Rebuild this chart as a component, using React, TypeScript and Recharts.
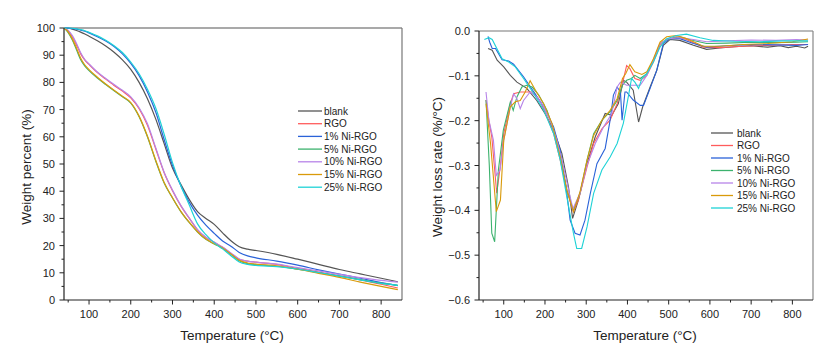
import React from 'react';
import { LineChart, Line, XAxis, YAxis, ReferenceLine } from 'recharts';

// TGA (left) temperature grid
const tgaTemps = [40, 50, 60, 70, 80, 90, 100, 120, 140, 160, 180, 200, 220, 240, 260, 280, 300, 320, 340, 360, 380, 400, 420, 440, 460, 480, 500, 550, 600, 650, 700, 750, 800, 840];

const tgaBlank = [100, 99.9, 99.6, 99.1, 98.5, 97.8, 97, 95.3, 93.4, 91.1, 88.3, 84.8, 80, 74, 66.5, 57.5, 48.5, 42.5, 37, 32.5, 30, 27.8, 24.7, 21.8, 19.6, 18.7, 18.2, 16.8, 15, 13.1, 11.2, 9.6, 8, 6.7];
const tgaRGO = [100, 98.9, 96.8, 93.8, 90.5, 88.2, 86.6, 83.6, 81.2, 78.9, 76.8, 74.3, 70.3, 64.2, 55.5, 46.8, 40.2, 34.6, 30.1, 25.8, 23, 21.2, 19.4, 17.1, 15, 14.3, 13.9, 13.1, 11.6, 10.3, 8.9, 7.4, 5.8, 4.4];
const tga1 = [100, 99.95, 99.8, 99.6, 99.2, 98.8, 98.2, 96.8, 95.2, 93.2, 90.5, 87, 82.5, 76.5, 69, 59, 49.5, 42, 36, 31.2, 27.5, 24.5, 21.7, 19.8, 17.5, 16.2, 15.5, 14.3, 12.8, 11.1, 9.5, 8, 6.4, 5.3];
const tga5 = [100, 98.3, 95.6, 92, 88.3, 86, 84.3, 81.6, 79.2, 76.9, 74.7, 72.4, 67.4, 60, 51, 43, 37.5, 32.5, 28.5, 25, 22.3, 20.6, 19, 16.8, 14.4, 13.4, 13, 12.4, 11.3, 10.1, 8.8, 7.5, 6.2, 5.4];
const tga10 = [100, 99.1, 97.2, 94.3, 90.9, 88.4, 86.8, 83.8, 81.4, 79.2, 77.1, 74.7, 70.7, 64.8, 55.9, 47, 40.4, 34.8, 30.2, 25.9, 23.1, 21.3, 19.5, 17.3, 15.1, 14.3, 13.9, 13.2, 11.9, 10.7, 9.4, 8.2, 7.2, 6.6];
const tga15 = [100, 98.6, 96, 92.6, 88.9, 86.4, 84.7, 81.9, 79.4, 77.1, 74.9, 72.6, 67.6, 60.2, 51.3, 43.2, 37.6, 32.6, 28.6, 25.1, 22.4, 20.7, 19.1, 16.9, 14.6, 13.6, 13.2, 12.6, 11.3, 9.8, 8.3, 6.6, 5, 3.8];
const tga25 = [100, 100, 99.9, 99.7, 99.4, 99, 98.4, 97.1, 95.5, 93.5, 91, 87.5, 83.2, 77.5, 70.5, 61, 50.5, 42, 35, 28, 24, 21, 18.8, 16.3, 14, 13.1, 12.7, 12.3, 11.4, 10.1, 8.8, 7.4, 6.1, 5.4];

// DTG (right) per-series temperatures and rates
const dtgBlankT = [62, 72, 84, 100, 116, 132, 156, 180, 200, 221, 241, 257, 267, 281, 302, 322, 346, 362, 378, 390, 398, 414, 427, 437, 455, 471, 487, 503, 527, 560, 592, 624, 660, 700, 740, 770, 790, 810, 830, 838];
const dtgBlankV = [-0.039, -0.043, -0.065, -0.08, -0.099, -0.114, -0.128, -0.155, -0.184, -0.221, -0.273, -0.348, -0.418, -0.377, -0.296, -0.236, -0.184, -0.188, -0.162, -0.11, -0.114, -0.132, -0.203, -0.169, -0.125, -0.088, -0.032, -0.019, -0.021, -0.032, -0.041, -0.038, -0.035, -0.033, -0.036, -0.033, -0.037, -0.034, -0.038, -0.034];
const dtgRGOT = [57, 64, 71, 83, 92, 100, 116, 124, 140, 156, 173, 189, 205, 221, 237, 253, 269, 281, 302, 318, 338, 358, 375, 388, 398, 406, 418, 431, 447, 463, 479, 495, 519, 543, 584, 624, 680, 740, 800, 838];
const dtgRGOV = [-0.154, -0.2, -0.236, -0.362, -0.3, -0.229, -0.162, -0.14, -0.136, -0.136, -0.136, -0.158, -0.192, -0.229, -0.288, -0.355, -0.403, -0.377, -0.303, -0.251, -0.218, -0.199, -0.162, -0.117, -0.077, -0.084, -0.106, -0.11, -0.099, -0.069, -0.032, -0.019, -0.013, -0.019, -0.036, -0.037, -0.034, -0.032, -0.03, -0.03];
const dtg1T = [62, 66, 72, 80, 96, 112, 124, 148, 173, 197, 221, 237, 253, 261, 273, 285, 297, 310, 326, 346, 358, 366, 375, 383, 387, 394, 398, 414, 431, 439, 455, 471, 487, 503, 527, 560, 592, 640, 700, 760, 810, 838];
const dtg1V = [-0.012, -0.025, -0.039, -0.039, -0.064, -0.067, -0.074, -0.102, -0.136, -0.169, -0.214, -0.266, -0.362, -0.422, -0.451, -0.455, -0.422, -0.362, -0.296, -0.262, -0.199, -0.143, -0.125, -0.136, -0.199, -0.136, -0.136, -0.154, -0.166, -0.166, -0.128, -0.088, -0.028, -0.017, -0.017, -0.028, -0.036, -0.033, -0.03, -0.031, -0.032, -0.03];
const dtg5T = [57, 65, 71, 78, 87, 99, 116, 123, 132, 144, 156, 169, 185, 205, 221, 237, 253, 269, 285, 302, 318, 338, 358, 375, 388, 398, 410, 418, 431, 447, 463, 479, 495, 527, 560, 592, 640, 700, 760, 810, 838];
const dtg5V = [-0.154, -0.3, -0.451, -0.47, -0.31, -0.221, -0.158, -0.177, -0.147, -0.125, -0.121, -0.125, -0.143, -0.177, -0.221, -0.281, -0.355, -0.4, -0.362, -0.288, -0.229, -0.199, -0.18, -0.155, -0.121, -0.11, -0.106, -0.099, -0.106, -0.095, -0.065, -0.028, -0.019, -0.013, -0.021, -0.028, -0.027, -0.025, -0.026, -0.025, -0.024];
const dtg10T = [57, 64, 75, 82, 91, 100, 116, 124, 132, 140, 148, 164, 181, 197, 213, 229, 245, 261, 268, 285, 302, 322, 342, 362, 375, 383, 398, 414, 431, 447, 463, 479, 499, 527, 560, 592, 640, 700, 760, 810, 838];
const dtg10V = [-0.136, -0.199, -0.244, -0.322, -0.31, -0.244, -0.169, -0.14, -0.151, -0.173, -0.155, -0.136, -0.147, -0.169, -0.199, -0.244, -0.303, -0.37, -0.396, -0.362, -0.299, -0.251, -0.214, -0.184, -0.125, -0.114, -0.121, -0.121, -0.121, -0.099, -0.065, -0.028, -0.017, -0.015, -0.019, -0.024, -0.022, -0.02, -0.021, -0.019, -0.02];
const dtg15T = [57, 68, 82, 92, 100, 116, 128, 140, 152, 164, 177, 197, 217, 237, 253, 269, 285, 302, 318, 338, 358, 375, 388, 396, 406, 418, 435, 447, 463, 479, 495, 519, 543, 584, 624, 680, 740, 800, 838];
const dtg15V = [-0.162, -0.251, -0.403, -0.377, -0.244, -0.169, -0.158, -0.155, -0.136, -0.111, -0.132, -0.162, -0.206, -0.281, -0.355, -0.403, -0.359, -0.288, -0.233, -0.199, -0.177, -0.151, -0.106, -0.095, -0.075, -0.091, -0.097, -0.091, -0.062, -0.025, -0.013, -0.01, -0.017, -0.034, -0.034, -0.03, -0.028, -0.024, -0.018];
const dtg25T = [53, 64, 72, 96, 112, 128, 148, 173, 197, 221, 237, 253, 269, 277, 289, 302, 318, 338, 358, 375, 390, 402, 410, 418, 427, 435, 447, 463, 479, 495, 519, 543, 576, 608, 660, 720, 780, 838];
const dtg25V = [-0.019, -0.015, -0.019, -0.062, -0.069, -0.08, -0.106, -0.14, -0.177, -0.229, -0.288, -0.37, -0.451, -0.485, -0.485, -0.437, -0.362, -0.31, -0.281, -0.251, -0.206, -0.147, -0.106, -0.114, -0.128, -0.106, -0.095, -0.069, -0.036, -0.017, -0.01, -0.007, -0.015, -0.021, -0.023, -0.024, -0.022, -0.022];

const seriesNames = ['blank', 'RGO', '1% Ni-RGO', '5% Ni-RGO', '10% Ni-RGO', '15% Ni-RGO', '25% Ni-RGO'];
const seriesColors = ['#555555', '#ff5c5c', '#2a62d8', '#3cb26e', '#b784e8', '#d99a0a', '#1ed2d6'];

const xTicks = [50, 100, 150, 200, 250, 300, 350, 400, 450, 500, 550, 600, 650, 700, 750, 800];
const tgaYTicks = [0, 5, 10, 15, 20, 25, 30, 35, 40, 45, 50, 55, 60, 65, 70, 75, 80, 85, 90, 95, 100];
const dtgYTicks = [-0.6, -0.55, -0.5, -0.45, -0.4, -0.35, -0.3, -0.25, -0.2, -0.15, -0.1, -0.05, 0];

const tgaSeries = [tgaBlank, tgaRGO, tga1, tga5, tga10, tga15, tga25];
const tgaData = tgaTemps.map((t, i) => {
  const row: any = { t };
  seriesNames.forEach((n, k) => { row[n] = tgaSeries[k][i]; });
  return row;
});

const dtgPairs: [number[], number[]][] = [
  [dtgBlankT, dtgBlankV], [dtgRGOT, dtgRGOV], [dtg1T, dtg1V], [dtg5T, dtg5V],
  [dtg10T, dtg10V], [dtg15T, dtg15V], [dtg25T, dtg25V],
];
const dtgData = dtgPairs.map(([ts, vs]) => ts.map((t, i) => ({ t, v: vs[i] })));

const FONT = '"Liberation Sans", Arial, sans-serif';
const INK = '#222';

const XTick = ({ x, y, payload }: any) => {
  const major = payload.value % 100 === 0;
  return (
    <g>
      <line x1={x} x2={x} y1={y} y2={y + (major ? 4.5 : 2.5)} stroke={INK} />
      {major && (
        <text x={x} y={y + 18} textAnchor="middle" fontSize={11} fill={INK} fontFamily={FONT}>
          {payload.value}
        </text>
      )}
    </g>
  );
};

const makeYTick = (step: number, fmt: (v: number) => string) => ({ x, y, payload }: any) => {
  const r = payload.value / step;
  const major = Math.abs(r - Math.round(r)) < 1e-6;
  return (
    <g>
      <line x1={x} x2={x - (major ? 4.5 : 2.5)} y1={y} y2={y} stroke={INK} />
      {major && (
        <text x={x - 9} y={y + 4} textAnchor="end" fontSize={11} fill={INK} fontFamily={FONT}>
          {fmt(payload.value)}
        </text>
      )}
    </g>
  );
};

const TgaYTick = makeYTick(10, (v) => String(Math.round(v)));
const DtgYTick = makeYTick(0.1, (v) => (Math.abs(v) < 1e-9 ? '0.0' : '\u2212' + Math.abs(v).toFixed(1)));

const LegendBox = ({ x, y, rowH, lineW, gap }: { x: number; y: number; rowH: number; lineW: number; gap: number }) => (
  <svg width={140} height={rowH * 7 + 4} style={{ position: 'absolute', left: x, top: y }}>
    {seriesNames.map((n, i) => (
      <g key={n}>
        <line x1={0} x2={lineW} y1={i * rowH + 6} y2={i * rowH + 6} stroke={seriesColors[i]} strokeWidth={1.3} />
        <text x={lineW + gap} y={i * rowH + 9.5} fontSize={10} fill={INK} fontFamily={FONT}>{n}</text>
      </g>
    ))}
  </svg>
);

const AxisTitle = ({ x, y, text, rotate }: { x: number; y: number; text: string; rotate?: boolean }) => (
  <div
    style={{
      position: 'absolute', left: x, top: y, fontFamily: FONT, fontSize: 13.5, color: INK,
      whiteSpace: 'nowrap', transform: `translate(-50%, -50%)${rotate ? ' rotate(-90deg)' : ''}`,
    }}
  >
    {text}
  </div>
);

export default function App() {
  return (
    <div style={{ position: 'absolute', left: 0, top: 0, width: 837, height: 355, background: '#fff', overflow: 'hidden' }}>
      <div style={{ position: 'absolute', left: 0, top: 0 }}>
        <LineChart width={420} height={355} data={tgaData} margin={{ top: 28, right: 18, left: 0, bottom: 0 }}>
          <XAxis
            dataKey="t" type="number" domain={[40, 850]} ticks={xTicks} interval={0}
            allowDataOverflow height={55} tickSize={0} tickMargin={0} tick={<XTick />}
            axisLine={{ stroke: INK, strokeWidth: 1.2 }} tickLine={false}
          />
          <YAxis
            type="number" domain={[0, 100]} ticks={tgaYTicks} interval={0} width={64}
            tickSize={0} tickMargin={0} tick={<TgaYTick />}
            axisLine={{ stroke: INK, strokeWidth: 1.2 }} tickLine={false}
          />
          <ReferenceLine y={100} stroke="#555" strokeWidth={1.2} />
          <ReferenceLine x={850} stroke="#777" strokeWidth={1.2} />
          {seriesNames.map((n, i) => (
            <Line key={n} type="monotone" dataKey={n} stroke={seriesColors[i]} strokeWidth={1.2} dot={false} isAnimationActive={false} />
          ))}
        </LineChart>
      </div>
      <div style={{ position: 'absolute', left: 420, top: 0 }}>
        <LineChart width={417} height={355} margin={{ top: 31, right: 24, left: 0, bottom: 0 }}>
          <XAxis
            dataKey="t" type="number" domain={[40, 850]} ticks={xTicks} interval={0}
            allowDataOverflow height={55} tickSize={0} tickMargin={0} tick={<XTick />}
            axisLine={{ stroke: INK, strokeWidth: 1.2 }} tickLine={false}
          />
          <YAxis
            type="number" domain={[-0.6, 0]} ticks={dtgYTicks} interval={0} width={59}
            tickSize={0} tickMargin={0} tick={<DtgYTick />}
            axisLine={{ stroke: INK, strokeWidth: 1.2 }} tickLine={false}
          />
          <ReferenceLine y={0} stroke="#777" strokeWidth={1.2} />
          <ReferenceLine x={850} stroke="#888" strokeWidth={1.2} />
          {seriesNames.map((n, i) => (
            <Line key={n} data={dtgData[i]} type="linear" dataKey="v" name={n} stroke={seriesColors[i]} strokeWidth={1.1} dot={false} isAnimationActive={false} />
          ))}
        </LineChart>
      </div>
      <LegendBox x={298} y={105} rowH={12.7} lineW={24} gap={2} />
      <LegendBox x={711} y={127} rowH={12.5} lineW={22} gap={4} />
      <AxisTitle x={26} y={167} text="Weight percent (%)" rotate />
      <AxisTitle x={232} y={335} text="Temperature (°C)" />
      <AxisTitle x={437} y={167} text="Weight loss rate (%/°C)" rotate />
      <AxisTitle x={645} y={335} text="Temperature (°C)" />
    </div>
  );
}
